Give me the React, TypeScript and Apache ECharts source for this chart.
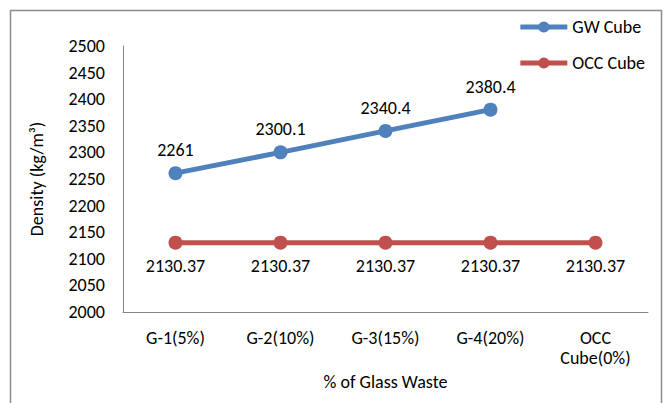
import React, { useEffect, useRef } from "react";
import * as echarts from "echarts";

const categories = ["G-1(5%)", "G-2(10%)", "G-3(15%)", "G-4(20%)", "OCC\nCube(0%)"];
const gwCube = [2261, 2300.1, 2340.4, 2380.4, null];
const occCube = [2130.37, 2130.37, 2130.37, 2130.37, 2130.37];
const yTicks = { min: 2000, max: 2500, interval: 50 };

const FONT = "Carlito, Lato, 'Liberation Sans', sans-serif";
const FS = 18;
const BLUE = "#4F81BD";
const RED = "#C0504D";
const AXIS = "#868686";

export default function App() {
  const ref = useRef<HTMLDivElement>(null);

  useEffect(() => {
    if (!ref.current) return;
    const chart = echarts.init(ref.current, undefined, { renderer: "svg" });
    chart.setOption({
      animation: false,
      backgroundColor: "#ffffff",
      textStyle: { fontFamily: FONT, color: "#000" },
      graphic: [
        {
          type: "rect",
          shape: { x: 10.5, y: 10.5, width: 651, height: 400 },
          style: { fill: "none", stroke: "#8a8a8a", lineWidth: 1.5 },
          silent: true,
        },
      ],
      legend: {
        orient: "vertical",
        right: 15,
        top: 13,
        itemWidth: 47,
        itemHeight: 14,
        itemGap: 18,
        lineStyle: { width: 5 },
        textStyle: { fontFamily: FONT, fontSize: FS, color: "#000" },
        data: ["GW Cube", "OCC Cube"],
      },
      grid: { left: 123, right: 17, top: 46, bottom: 91 },
      xAxis: {
        type: "category",
        data: categories,
        boundaryGap: true,
        name: "% of Glass Waste",
        nameLocation: "middle",
        nameGap: 45,
        nameTextStyle: { fontFamily: FONT, fontSize: FS, color: "#000" },
        axisLine: { lineStyle: { color: AXIS, width: 1 } },
        axisTick: { show: false },
        axisLabel: {
          fontFamily: FONT,
          fontSize: FS,
          color: "#000",
          margin: 16,
          lineHeight: 20,
          interval: 0,
        },
        splitLine: { show: false },
      },
      yAxis: {
        type: "value",
        min: yTicks.min,
        max: yTicks.max,
        interval: yTicks.interval,
        name: "Density (kg/m³)",
        nameLocation: "middle",
        nameGap: 77,
        nameTextStyle: { fontFamily: FONT, fontSize: FS, color: "#000" },
        axisLine: { show: true, lineStyle: { color: AXIS, width: 1 } },
        axisTick: { show: false },
        axisLabel: {
          fontFamily: FONT,
          fontSize: FS,
          color: "#000",
          margin: 18,
          formatter: (v: number) => String(v),
        },
        splitLine: { show: false },
      },
      series: [
        {
          name: "GW Cube",
          type: "line",
          data: gwCube,
          color: BLUE,
          symbol: "circle",
          symbolSize: 14,
          lineStyle: { width: 5, color: BLUE },
          itemStyle: { color: BLUE },
          label: {
            show: true,
            position: "top",
            distance: 7,
            fontFamily: FONT,
            fontSize: FS,
            color: "#000",
          },
        },
        {
          name: "OCC Cube",
          type: "line",
          data: occCube,
          color: RED,
          symbol: "circle",
          symbolSize: 14,
          lineStyle: { width: 5, color: RED },
          itemStyle: { color: RED },
          label: {
            show: true,
            position: "bottom",
            distance: 7,
            fontFamily: FONT,
            fontSize: FS,
            color: "#000",
          },
        },
      ],
    });
    return () => chart.dispose();
  }, []);

  return <div ref={ref} style={{ width: 665, height: 403, position: "absolute", left: 0, top: 0 }} />;
}
